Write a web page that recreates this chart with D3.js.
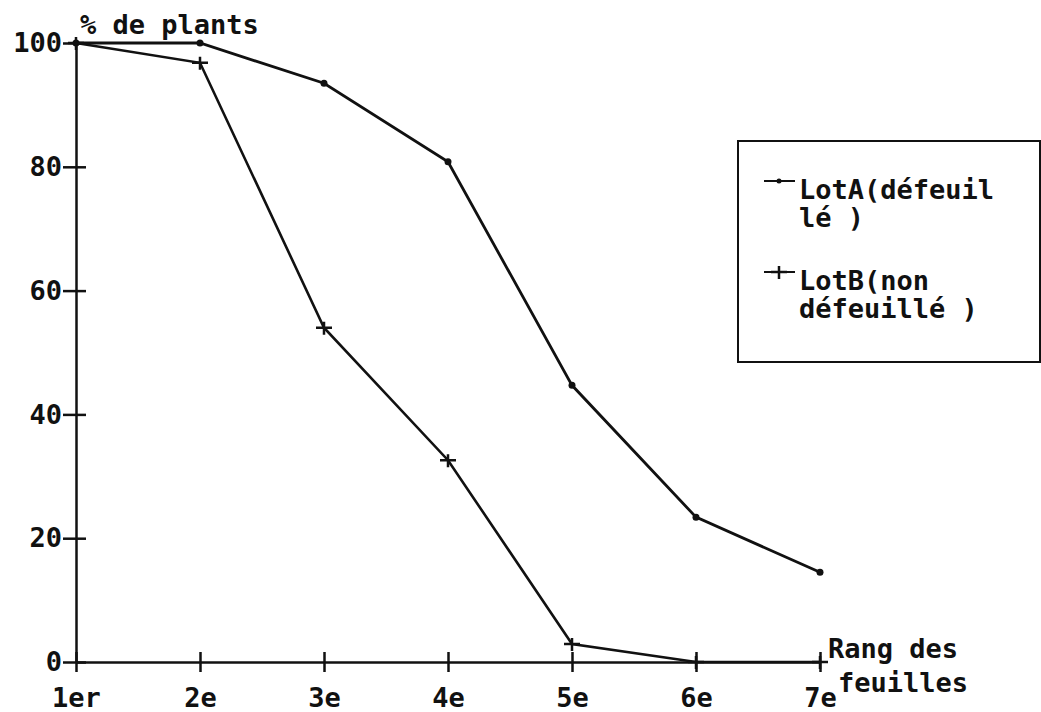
<!DOCTYPE html>
<html>
<head>
<meta charset="utf-8">
<script src="https://cdn.jsdelivr.net/npm/d3@7"></script>
<style>
  body { margin: 0; background: #fff; }
  svg { display: block; }
  text { font-family: "DejaVu Sans Mono", monospace; font-weight: bold; fill: #111; }
</style>
</head>
<body>
<div id="viz"></div>
<script>
const WIDTH = 1041, HEIGHT = 712;

// rang des feuilles
const categories = ["1er", "2e", "3e", "4e", "5e", "6e", "7e"];
const yTicks = [0, 20, 40, 60, 80, 100];
// % de plants
const lotA = [100, 100, 93.5, 80.8, 44.7, 23.4, 14.5];
const lotB = [100, 96.8, 54, 32.6, 2.9, 0, 0];
const legendA = ["LotA(défeuil", "lé )"];
const legendB = ["LotB(non", "défeuillé )"];

const svg = d3.select("#viz").append("svg")
  .attr("width", WIDTH)
  .attr("height", HEIGHT);

const x = d3.scalePoint().domain(categories).range([76, 820]);
const y = d3.scaleLinear().domain([0, 100]).range([662, 43]);

// axes
const yAxis = svg.append("g")
  .attr("transform", `translate(${x("1er")},0)`)
  .call(d3.axisLeft(y).tickValues(yTicks).tickSize(13).tickSizeOuter(0).tickPadding(0));
yAxis.selectAll(".tick line").attr("x2", -13).attr("x1", 10);
yAxis.selectAll(".tick text")
  .attr("x", -14)
  .style("font-size", "27px")
  .style("font-family", "'DejaVu Sans Mono', monospace")
  .style("font-weight", "bold");

const xAxis = svg.append("g")
  .attr("transform", `translate(0,${y(0)})`)
  .call(d3.axisBottom(x).tickSize(10).tickSizeOuter(0).tickPadding(0));
xAxis.selectAll(".tick line").attr("y1", -10).attr("y2", 10);
xAxis.selectAll(".tick text")
  .attr("y", 26)
  .attr("dy", "0.71em")
  .style("font-size", "27px")
  .style("font-family", "'DejaVu Sans Mono', monospace")
  .style("font-weight", "bold");

svg.selectAll(".domain, .tick line")
  .attr("stroke", "#111")
  .attr("stroke-width", 2.5);
svg.selectAll(".domain").attr("fill", "none");

// axis titles
svg.append("text")
  .attr("x", 80).attr("y", 34)
  .style("font-size", "27px")
  .text("% de plants");
svg.append("text")
  .attr("x", 828).attr("y", 658)
  .style("font-size", "27px")
  .text("Rang des");
svg.append("text")
  .attr("x", 838).attr("y", 692)
  .style("font-size", "27px")
  .text("feuilles");

// lines
const line = d3.line()
  .x((d, i) => x(categories[i]))
  .y(d => y(d));

svg.append("path")
  .datum(lotA)
  .attr("d", line)
  .attr("fill", "none")
  .attr("stroke", "#111")
  .attr("stroke-width", 2.8);

svg.append("path")
  .datum(lotB)
  .attr("d", line)
  .attr("fill", "none")
  .attr("stroke", "#111")
  .attr("stroke-width", 2.6);

// markers
svg.selectAll(".dotA")
  .data(lotA)
  .join("circle")
  .attr("class", "dotA")
  .attr("cx", (d, i) => x(categories[i]))
  .attr("cy", d => y(d))
  .attr("r", 3.5)
  .attr("fill", "#111");

function plus(g, cx, cy) {
  g.append("path")
    .attr("d", `M${cx - 8},${cy}H${cx + 8}M${cx},${cy - 6}V${cy + 7}`)
    .attr("stroke", "#111")
    .attr("stroke-width", 2.5);
}
const plusG = svg.append("g");
lotB.forEach((d, i) => plus(plusG, x(categories[i]), y(d)));

// legend
svg.append("rect")
  .attr("x", 738).attr("y", 141)
  .attr("width", 302).attr("height", 221)
  .attr("fill", "none")
  .attr("stroke", "#111")
  .attr("stroke-width", 2);

const legendFont = "27px";
svg.append("path")
  .attr("d", "M764,181H795")
  .attr("stroke", "#111")
  .attr("stroke-width", 2);
svg.append("circle")
  .attr("cx", 779).attr("cy", 181).attr("r", 2.5).attr("fill", "#111");
legendA.forEach((t, i) => {
  svg.append("text")
    .attr("x", 799).attr("y", 199 + i * 28)
    .style("font-size", legendFont)
    .text(t);
});

svg.append("path")
  .attr("d", "M764,272H795")
  .attr("stroke", "#111")
  .attr("stroke-width", 2);
plus(svg, 779, 272);
legendB.forEach((t, i) => {
  svg.append("text")
    .attr("x", 799).attr("y", 290 + i * 28)
    .style("font-size", legendFont)
    .text(t);
});
</script>
</body>
</html>
